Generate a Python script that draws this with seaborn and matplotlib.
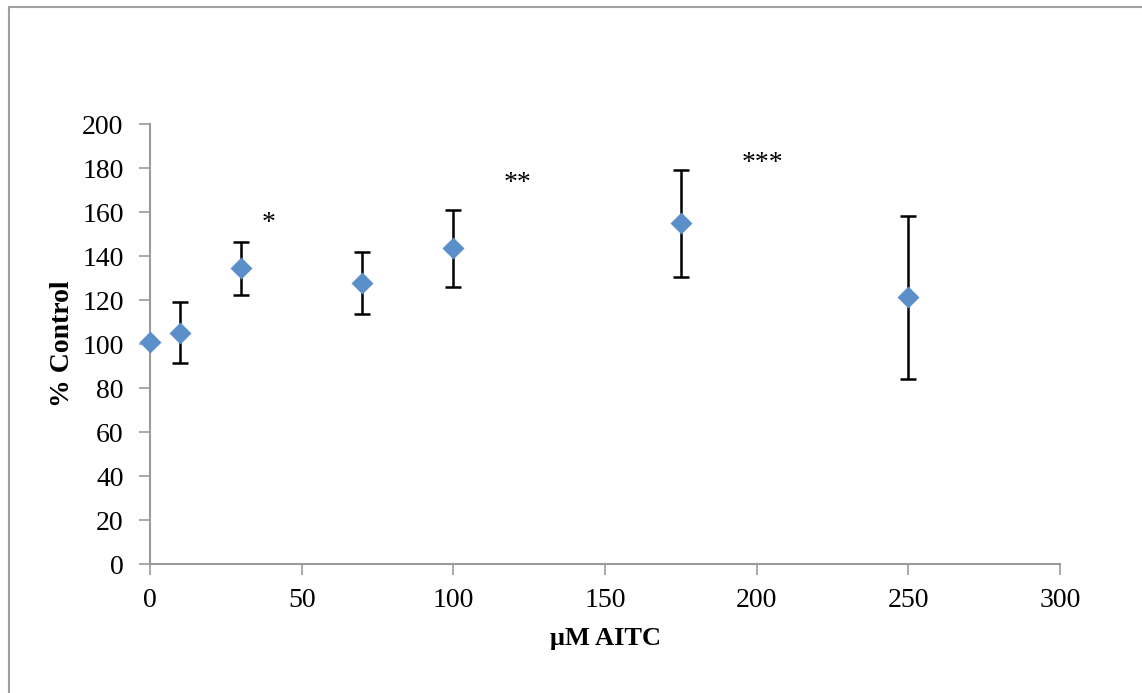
import matplotlib
matplotlib.use("Agg")
import matplotlib.pyplot as plt
from matplotlib.lines import Line2D
import seaborn as sns
import pandas as pd

# AITC concentration (uM) vs % of control, mean +/- SD
conc = [0, 10, 30, 70, 100, 175, 250]
pct_control = [100.8, 105.1, 134.4, 127.6, 143.5, 154.9, 121.2]
sd = [0, 13.9, 12.1, 14.0, 17.6, 24.3, 36.9]

# significance marks
sig_labels = ["*", "**", "***"]
sig_x = [39, 121, 202]
sig_y = [155, 173, 182]

x_ticks = [0, 50, 100, 150, 200, 250, 300]
y_ticks = [0, 20, 40, 60, 80, 100, 120, 140, 160, 180, 200]

df = pd.DataFrame({"conc": conc, "pct": pct_control, "sd": sd})

sns.set_theme(style="white")
plt.rcParams["font.family"] = ["Liberation Serif", "DejaVu Serif"]
plt.rcParams["text.color"] = "black"
plt.rcParams["axes.labelcolor"] = "black"

fig = plt.figure(figsize=(11.42, 6.93), dpi=100)
ax = fig.add_axes([150 / 1142, 129 / 693, 910 / 1142, 440 / 693])

ax.errorbar(df["conc"], df["pct"], yerr=df["sd"], fmt="none", ecolor="black",
            elinewidth=1.8, capsize=6, capthick=1.8, zorder=2)
sns.scatterplot(data=df, x="conc", y="pct", marker="D", s=125, color="#5b8fc9",
                edgecolor="#5b8fc9", linewidth=0, ax=ax, zorder=3, clip_on=False)

for lab, xx, yy in zip(sig_labels, sig_x, sig_y):
    ax.text(xx, yy, lab, ha="center", va="center", fontsize=20, color="black")

ax.set_xlim(0, 300)
ax.set_ylim(0, 200)
ax.set_xticks(x_ticks)
ax.set_yticks(y_ticks)
ax.tick_params(axis="both", direction="out", length=8, width=1.2, color="#9a9a9a",
               labelsize=20, labelcolor="black", bottom=True, left=True)
ax.tick_params(axis="x", pad=9)
ax.tick_params(axis="y", pad=11)

for side in ["top", "right"]:
    ax.spines[side].set_visible(False)
for side in ["left", "bottom"]:
    ax.spines[side].set_color("#9a9a9a")
    ax.spines[side].set_linewidth(1.5)

ax.set_xlabel("μM AITC", fontsize=19, fontweight="bold", color="black", labelpad=10)
ax.set_ylabel("% Control", fontsize=20, fontweight="bold", color="black", labelpad=5)

# outer chart frame
fig.add_artist(Line2D([9 / 1142, 9 / 1142], [0, 1 - 7 / 693], color="#a0a0a0", linewidth=1.5))
fig.add_artist(Line2D([9 / 1142, 1], [1 - 7 / 693, 1 - 7 / 693], color="#a0a0a0", linewidth=1.5))

fig.savefig("out.png", dpi=100)
